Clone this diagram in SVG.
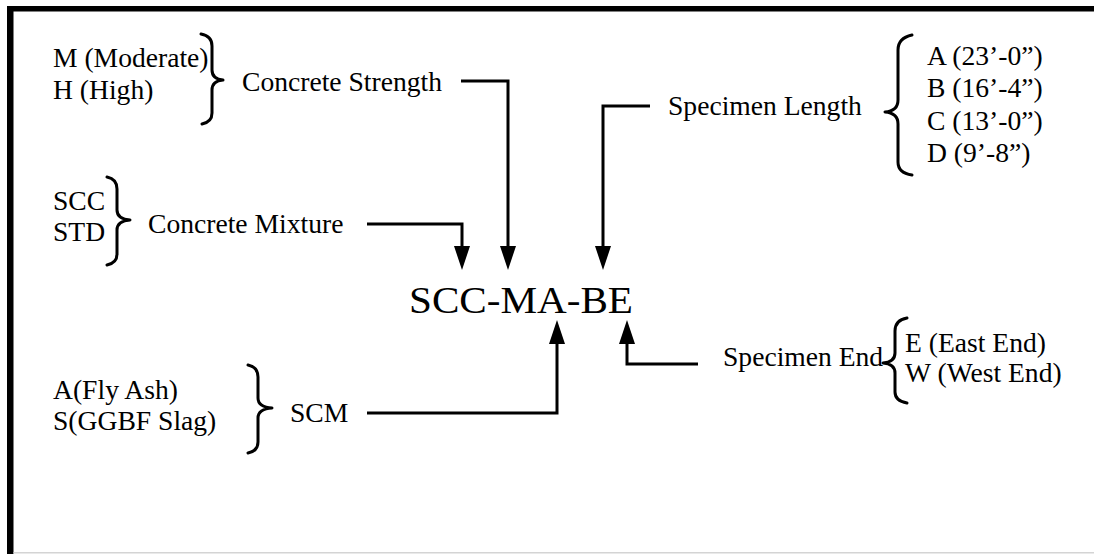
<svg xmlns="http://www.w3.org/2000/svg" width="1094" height="554" viewBox="0 0 1094 554">
<style>
text{font-family:"Liberation Serif","Times New Roman",serif;font-size:27.6px;fill:#000}
.brace{fill:none;stroke:#000;stroke-width:3;stroke-linecap:round;stroke-linejoin:round}
.conn{fill:none;stroke:#000;stroke-width:3}
</style>
<defs>
<marker id="ah" viewBox="0 -8 24 16" refX="2" refY="0" markerWidth="24" markerHeight="16" markerUnits="userSpaceOnUse" orient="auto">
<path d="M0,-8 L24,0 L0,8 z" fill="#000"/>
</marker>
</defs>
<rect width="1094" height="554" fill="#fff"/>
<g id="frame">
<rect x="7" y="6" width="1087" height="5.5" fill="#000"/>
<rect x="7" y="6" width="6.5" height="548" fill="#000"/>
<rect x="13.5" y="552" width="1080.5" height="1.5" fill="#d4d4d4"/>
</g>
<g id="connectors">
<path class="conn" d="M461,81 H508 V248" marker-end="url(#ah)"/>
<path class="conn" d="M367,224 H462 V248" marker-end="url(#ah)"/>
<path class="conn" d="M650,106 H603 V248" marker-end="url(#ah)"/>
<path class="conn" d="M367,413 H557 V342" marker-end="url(#ah)"/>
<path class="conn" d="M698,364 H627 V342" marker-end="url(#ah)"/>
</g>
<g id="node-main">
<text x="409" y="313" style="font-size:38px" textLength="224" lengthAdjust="spacingAndGlyphs">SCC-MA-BE</text>
</g>
<g id="node-strength">
<text x="53" y="67">M (Moderate)</text>
<text x="53" y="99">H (High)</text>
<path class="brace" d="M201,34 Q212,36 212,46 L212,70 Q212,79 223,80 Q212,81 212,90 L212,113 Q212,122 202,124"/>
<text x="242" y="91">Concrete Strength</text>
</g>
<g id="node-mixture">
<text x="53" y="210">SCC</text>
<text x="53" y="241">STD</text>
<path class="brace" d="M107,177 Q117,179 117,189 L117,210 Q117,219 130,220 Q117,221 117,230 L117,254 Q117,263 107,265"/>
<text x="148" y="233">Concrete Mixture</text>
</g>
<g id="node-scm">
<text x="53" y="399">A(Fly Ash)</text>
<text x="53" y="430">S(GGBF Slag)</text>
<path class="brace" d="M248,365 Q258,367 258,377 L258,398 Q258,407 272,408 Q258,409 258,418 L258,442 Q258,451 248,453"/>
<text x="290" y="422">SCM</text>
</g>
<g id="node-length">
<text x="668" y="115">Specimen Length</text>
<path class="brace" d="M912,35 Q898,38 898,50 L898,100 Q898,111 885,112 Q898,113 898,124 L898,162 Q898,173 912,175"/>
<text x="927" y="65">A (23’-0”)</text>
<text x="927" y="97">B (16’-4”)</text>
<text x="927" y="130">C (13’-0”)</text>
<text x="927" y="162">D (9’-8”)</text>
</g>
<g id="node-end">
<text x="723" y="366">Specimen End</text>
<path class="brace" d="M907,318 Q895,320 895,331 L895,353 Q895,362 883,363 Q895,364 895,373 L895,392 Q895,401 907,403"/>
<text x="905" y="352">E (East End)</text>
<text x="905" y="382">W (West End)</text>
</g>
</svg>
